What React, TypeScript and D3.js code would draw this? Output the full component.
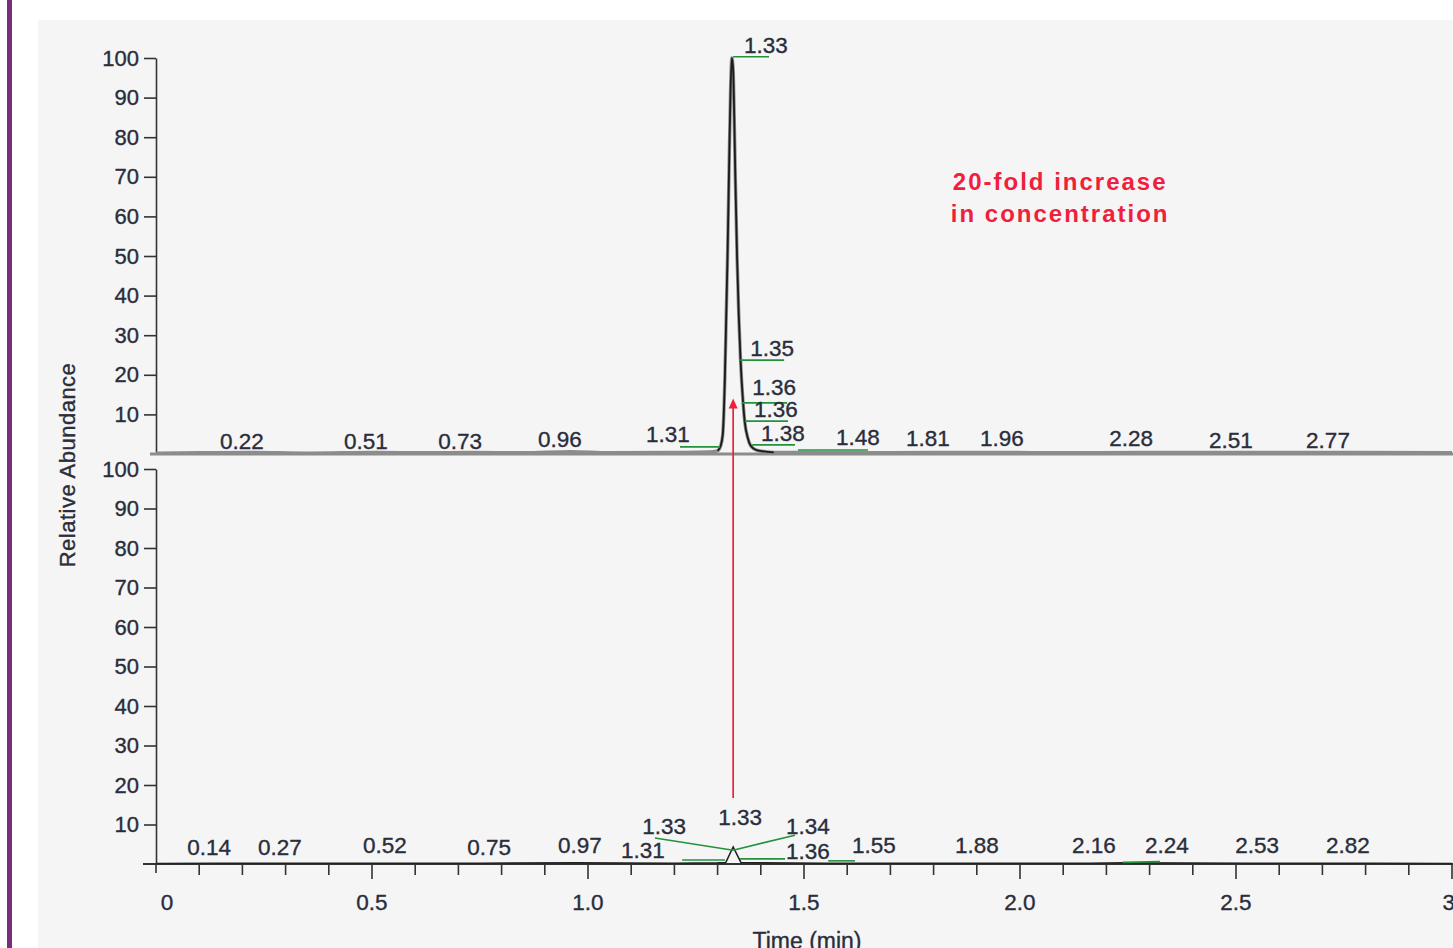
import * as d3 from "d3";
import { useEffect, useRef } from "react";

// x축 눈금 (min)
const xMajorTicks = [0, 0.5, 1.0, 1.5, 2.0, 2.5, 3.0];
const xMajorLabels = ["0", "0.5", "1.0", "1.5", "2.0", "2.5", "3."];
const xMinorTicks = [
  0, 0.1, 0.2, 0.3, 0.4, 0.5, 0.6, 0.7, 0.8, 0.9, 1.0, 1.1, 1.2, 1.3, 1.4, 1.5,
  1.6, 1.7, 1.8, 1.9, 2.0, 2.1, 2.2, 2.3, 2.4, 2.5, 2.6, 2.7, 2.8, 2.9, 3.0,
];
// y축 눈금 (%)
const yTicks = [10, 20, 30, 40, 50, 60, 70, 80, 90, 100];

// 위쪽 크로마토그램 [time, abundance]
const topTrace: [number, number][] = [
  [0.0, 0.2], [0.1, 0.3], [0.22, 0.4], [0.35, 0.2], [0.51, 0.4], [0.62, 0.3],
  [0.73, 0.4], [0.85, 0.3], [0.96, 0.6], [1.05, 0.3], [1.2, 0.4], [1.28, 0.5],
  [1.3, 0.8], [1.307, 2], [1.312, 5], [1.317, 20], [1.32, 35], [1.323, 50],
  [1.327, 75], [1.33, 92], [1.333, 100], [1.336, 97], [1.338, 88], [1.341, 70],
  [1.345, 50], [1.349, 35], [1.353, 24], [1.359, 13], [1.363, 8], [1.37, 4],
  [1.377, 2], [1.39, 1], [1.43, 0.4], [1.48, 0.4], [1.6, 0.3], [1.81, 0.4],
  [1.96, 0.4], [2.1, 0.3], [2.28, 0.4], [2.51, 0.4], [2.77, 0.4], [3.0, 0.3],
];

// 아래쪽 크로마토그램 [time, abundance]
const bottomTrace: [number, number][] = [
  [0.0, 0.1], [0.14, 0.2], [0.27, 0.2], [0.52, 0.2], [0.75, 0.2], [0.97, 0.3],
  [1.2, 0.2], [1.3, 0.3], [1.319, 0.4], [1.336, 4.3], [1.354, 0.4], [1.4, 0.3],
  [1.55, 0.2], [1.88, 0.2], [2.16, 0.2], [2.24, 0.3], [2.53, 0.2], [2.82, 0.2],
  [3.0, 0.1],
];

// 피크 라벨: 표시 텍스트, 라벨 중심 (time, abundance)
const topLabels = [
  { text: "0.22", t: 0.199, a: 3.3 },
  { text: "0.51", t: 0.486, a: 3.3 },
  { text: "0.73", t: 0.704, a: 3.3 },
  { text: "0.96", t: 0.935, a: 3.8 },
  { text: "1.31", t: 1.185, a: 5.1 },
  { text: "1.33", t: 1.412, a: 103.3 },
  { text: "1.35", t: 1.426, a: 26.8 },
  { text: "1.36", t: 1.431, a: 16.9 },
  { text: "1.36", t: 1.435, a: 11.4 },
  { text: "1.38", t: 1.451, a: 5.3 },
  { text: "1.48", t: 1.625, a: 4.3 },
  { text: "1.81", t: 1.787, a: 4.0 },
  { text: "1.96", t: 1.958, a: 4.0 },
  { text: "2.28", t: 2.257, a: 4.0 },
  { text: "2.51", t: 2.488, a: 3.5 },
  { text: "2.77", t: 2.713, a: 3.5 },
];
const bottomLabels = [
  { text: "0.14", t: 0.123, a: 4.3 },
  { text: "0.27", t: 0.287, a: 4.3 },
  { text: "0.52", t: 0.53, a: 4.8 },
  { text: "0.75", t: 0.771, a: 4.3 },
  { text: "0.97", t: 0.981, a: 4.8 },
  { text: "1.31", t: 1.127, a: 3.5 },
  { text: "1.33", t: 1.176, a: 9.6 },
  { text: "1.33", t: 1.352, a: 11.9 },
  { text: "1.34", t: 1.509, a: 9.6 },
  { text: "1.36", t: 1.509, a: 3.3 },
  { text: "1.55", t: 1.662, a: 4.8 },
  { text: "1.88", t: 1.9, a: 4.8 },
  { text: "2.16", t: 2.171, a: 4.8 },
  { text: "2.24", t: 2.34, a: 4.8 },
  { text: "2.53", t: 2.549, a: 4.8 },
  { text: "2.82", t: 2.759, a: 4.8 },
];

// 초록색 리더 선 [t1, a1, t2, a2]
const topLeaders: [number, number, number, number][] = [
  [1.213, 1.8, 1.306, 1.8],
  [1.336, 100.3, 1.419, 100.3],
  [1.352, 23.7, 1.454, 23.7],
  [1.356, 12.9, 1.461, 12.9],
  [1.363, 8.3, 1.463, 8.3],
  [1.38, 2.3, 1.479, 2.3],
  [1.486, 1.0, 1.648, 1.0],
];
const bottomLeaders: [number, number, number, number][] = [
  [1.155, 6.6, 1.336, 3.5],
  [1.336, 3.5, 1.479, 7.3],
  [1.218, 1.0, 1.317, 1.0],
  [1.352, 1.3, 1.456, 1.3],
  [1.556, 0.8, 1.618, 0.8],
  [2.238, 0.4, 2.324, 0.6],
];

// 주석
const annotationLines = ["20-fold increase", "in concentration"];
const arrowTime = 1.336;
const arrowFrom = 16.7; // bottom panel abundance
const arrowTo = 14; // top panel abundance

export default function App() {
  const svgRef = useRef<SVGSVGElement>(null);

  useEffect(() => {
    if (!svgRef.current) return;
    const svg = d3.select(svgRef.current);
    svg.selectAll("*").remove();

    const width = 1453;
    const height = 948;
    const font = "'Liberation Sans', Arial, Helvetica, sans-serif";
    const ink = "#2a2d3a";
    const green = "#23923c";
    const red = "#f0203c";

    const x = d3.scaleLinear().domain([0, 3]).range([156, 1452]);
    const yTop = d3.scaleLinear().domain([0, 100]).range([454, 58]);
    const yBot = d3.scaleLinear().domain([0, 100]).range([864, 469]);

    svg.attr("width", width).attr("height", height);

    // 글자 스타일 (약간 굵게)
    const inkText = (sel: d3.Selection<any, any, any, any>, size: number) =>
      sel
        .attr("fill", ink)
        .attr("stroke", ink)
        .attr("stroke-width", 0.35)
        .style("font-family", font)
        .style("font-size", `${size}px`);

    // 배경
    svg.append("rect").attr("width", width).attr("height", height).attr("fill", "#ffffff");
    svg
      .append("rect")
      .attr("x", 38)
      .attr("y", 20)
      .attr("width", width - 38)
      .attr("height", height - 20)
      .attr("fill", "#f5f5f5");
    svg
      .append("rect")
      .attr("x", 7)
      .attr("y", 0)
      .attr("width", 5)
      .attr("height", height)
      .attr("fill", "#7a2c7c");

    // y축
    const drawYAxis = (y: d3.ScaleLinear<number, number>) => {
      const g = svg
        .append("g")
        .attr("transform", `translate(${x(0)},0)`)
        .call(
          d3
            .axisLeft(y)
            .tickValues(yTicks)
            .tickSize(12)
            .tickSizeOuter(0)
            .tickPadding(5)
            .tickFormat((d) => String(d)),
        );
      g.selectAll("path, line").attr("stroke", "#333").attr("stroke-width", 1.6);
      inkText(g.selectAll("text"), 22);
    };
    drawYAxis(yTop);
    drawYAxis(yBot);
    // 아래 y축을 x축 아래까지 연장
    svg
      .append("line")
      .attr("x1", x(0))
      .attr("x2", x(0))
      .attr("y1", yBot(0))
      .attr("y2", yBot(0) + 9)
      .attr("stroke", "#333")
      .attr("stroke-width", 1.6);

    // x축
    svg
      .append("line")
      .attr("x1", 143)
      .attr("x2", width)
      .attr("y1", yBot(0))
      .attr("y2", yBot(0))
      .attr("stroke", "#333")
      .attr("stroke-width", 1.8);
    svg
      .selectAll(".xminor")
      .data(xMinorTicks.filter((d) => d > 0))
      .enter()
      .append("line")
      .attr("x1", (d) => x(d))
      .attr("x2", (d) => x(d))
      .attr("y1", yBot(0))
      .attr("y2", (d) => yBot(0) + (xMajorTicks.includes(d) ? 15 : 11))
      .attr("stroke", "#333")
      .attr("stroke-width", 1.6);
    inkText(
      svg
        .selectAll(".xlabel")
        .data(xMajorTicks)
        .enter()
        .append("text")
        .attr("x", (d) => x(d) + (d === 0 ? 11 : 0))
        .attr("y", yBot(0) + 38)
        .attr("dy", "0.35em")
        .attr("text-anchor", "middle")
        .text((d, i) => xMajorLabels[i]),
      22.5,
    );
    inkText(
      svg
        .append("text")
        .attr("x", 807)
        .attr("y", 949)
        .attr("text-anchor", "middle")
        .text("Time (min)"),
      23,
    );

    // y축 제목
    inkText(
      svg
        .append("text")
        .attr("transform", `translate(75,465) rotate(-90)`)
        .attr("text-anchor", "middle")
        .style("letter-spacing", "0.5px")
        .text("Relative Abundance"),
      22,
    );

    // 위 패널 기준선
    svg
      .append("line")
      .attr("x1", 150)
      .attr("x2", width)
      .attr("y1", yTop(0))
      .attr("y2", yTop(0))
      .attr("stroke", "#8c8c8c")
      .attr("stroke-width", 3);

    // 트레이스
    const lineTop = d3
      .line<[number, number]>()
      .x((d) => x(d[0]))
      .y((d) => yTop(d[1]))
      .curve(d3.curveMonotoneX);
    const lineBot = d3
      .line<[number, number]>()
      .x((d) => x(d[0]))
      .y((d) => yBot(d[1]));

    svg
      .append("path")
      .datum(topTrace)
      .attr("d", lineTop)
      .attr("fill", "none")
      .attr("stroke", "#8c8c8c")
      .attr("stroke-width", 3.4);
    svg
      .append("path")
      .datum(topTrace.filter((d) => d[0] >= 1.3 && d[0] <= 1.45))
      .attr("d", lineTop)
      .attr("fill", "none")
      .attr("stroke", "#1a1a1a")
      .attr("stroke-width", 1.8);
    svg
      .append("path")
      .datum(bottomTrace)
      .attr("d", lineBot)
      .attr("fill", "none")
      .attr("stroke", "#222")
      .attr("stroke-width", 1.5);

    // 리더 선
    const drawLeaders = (
      data: [number, number, number, number][],
      y: d3.ScaleLinear<number, number>,
    ) => {
      svg
        .append("g")
        .selectAll("line")
        .data(data)
        .enter()
        .append("line")
        .attr("x1", (d) => x(d[0]))
        .attr("y1", (d) => y(d[1]))
        .attr("x2", (d) => x(d[2]))
        .attr("y2", (d) => y(d[3]))
        .attr("stroke", green)
        .attr("stroke-width", 1.6);
    };
    drawLeaders(topLeaders, yTop);
    drawLeaders(bottomLeaders, yBot);

    // 피크 라벨
    const drawLabels = (
      data: { text: string; t: number; a: number }[],
      y: d3.ScaleLinear<number, number>,
    ) => {
      inkText(
        svg
          .append("g")
          .selectAll("text")
          .data(data)
          .enter()
          .append("text")
          .attr("x", (d) => x(d.t))
          .attr("y", (d) => y(d.a))
          .attr("dy", "0.35em")
          .attr("text-anchor", "middle")
          .text((d) => d.text),
        22.5,
      );
    };
    drawLabels(topLabels, yTop);
    drawLabels(bottomLabels, yBot);

    // 빨간 화살표
    const ax = x(arrowTime);
    const tipY = yTop(arrowTo);
    svg
      .append("line")
      .attr("x1", ax)
      .attr("x2", ax)
      .attr("y1", yBot(arrowFrom))
      .attr("y2", tipY + 6)
      .attr("stroke", red)
      .attr("stroke-width", 1.7);
    svg
      .append("path")
      .attr("d", `M${ax},${tipY} L${ax - 4.5},${tipY + 10} L${ax + 4.5},${tipY + 10} Z`)
      .attr("fill", red);

    // 주석 텍스트
    svg
      .selectAll(".note")
      .data(annotationLines)
      .enter()
      .append("text")
      .attr("x", x(2.093))
      .attr("y", (d, i) => yTop(66.7 - i * 8.1))
      .attr("text-anchor", "middle")
      .attr("fill", red)
      .style("font-family", font)
      .style("font-size", "24px")
      .style("font-weight", "bold")
      .style("letter-spacing", "2px")
      .text((d) => d);
  }, []);

  return (
    <div style={{ position: "fixed", left: 0, top: 0 }}>
      <svg ref={svgRef} style={{ display: "block" }}></svg>
    </div>
  );
}
